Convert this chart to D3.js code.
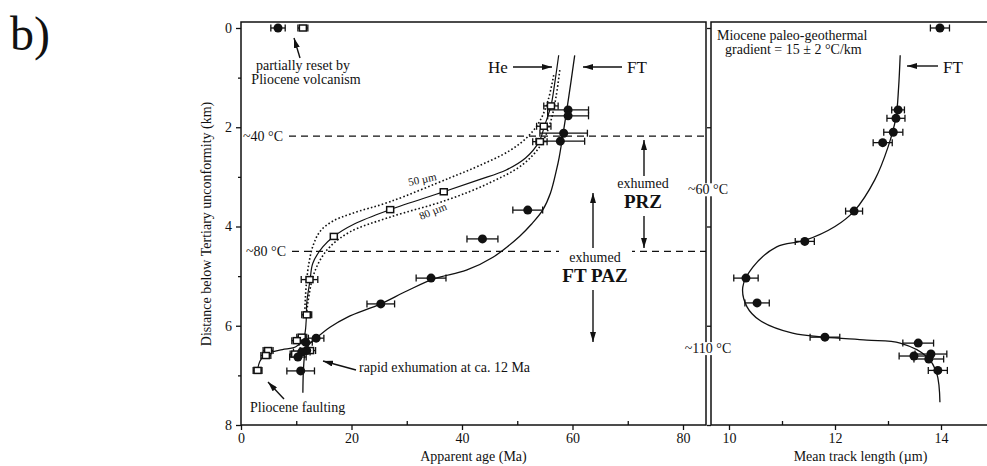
<!DOCTYPE html>
<html>
<head>
<meta charset="utf-8">
<script src="https://cdn.jsdelivr.net/npm/d3@7"></script>
<style>
body { margin: 0; background: #fff; }
svg text { font-family: "Liberation Serif", "Times New Roman", serif; fill: #111; }
</style>
</head>
<body>
<svg class="chart" width="987" height="466"></svg>
<script>
// fission-track (FT) ages, Ma, with depth below the unconformity, km
const ftAge   = [6.7, 59.2, 59.2, 58.4, 57.8, 51.9, 43.7, 34.4, 25.3, 13.6, 11.7, 11.9, 11.0, 10.3, 10.8]
const ftDepth = [0.0, 1.65, 1.77, 2.12, 2.28, 3.67, 4.25, 5.04, 5.56, 6.25, 6.33, 6.50, 6.53, 6.63, 6.91]
const ftErr   = [1.3, 3.7, 3.7, 4.3, 4.4, 2.7, 2.8, 2.7, 2.5, 1.4, 1.2, 1.2, 1.5, 1.5, 2.5]

// (U-Th)/He ages, Ma
const heAge   = [11.2, 56.1, 54.8, 54.1, 36.7, 27.0, 16.8, 12.4, 11.9, 11.0, 10.1, 12.5, 9.8, 4.9, 4.5, 3.0]
const heDepth = [0.0, 1.57, 1.98, 2.29, 3.30, 3.66, 4.20, 5.07, 5.78, 6.23, 6.30, 6.50, 6.57, 6.50, 6.60, 6.90]
const heErr   = [0.9, 1.3, 1.3, 1.3, 0, 0, 0, 1.5, 0.9, 0.9, 0.9, 1.0, 0.9, 0.9, 0.9, 0.8]

// mean track length, um
const mtl      = [13.98, 13.19, 13.15, 13.10, 12.90, 12.36, 11.43, 10.32, 10.53, 11.81, 13.57, 13.81, 13.49, 13.77, 13.94]
const mtlDepth = [0.00, 1.65, 1.82, 2.10, 2.31, 3.69, 4.30, 5.04, 5.54, 6.23, 6.35, 6.57, 6.61, 6.67, 6.90]
const mtlErr   = [0.18, 0.12, 0.17, 0.18, 0.18, 0.16, 0.18, 0.23, 0.23, 0.28, 0.29, 0.30, 0.28, 0.28, 0.18]

// model curves
const ftCurveAge   = [60.4, 59.7, 58.9, 58.2, 57.6, 57.1, 56.0, 54.6, 52.6, 50.4, 45.6, 40.8, 35.0, 30.0, 25.3, 19.2, 16.1, 13.6, 12.3, 11.6, 11.3, 11.2]
const ftCurveDepth = [0.55, 1.1, 1.7, 2.2, 2.6, 2.86, 3.33, 3.67, 3.95, 4.2, 4.62, 4.88, 5.05, 5.3, 5.56, 5.83, 6.03, 6.25, 6.38, 6.55, 6.9, 7.35]

const heCurveAge   = [57.5, 56.8, 56.1, 55.0, 53.9, 51.5, 48.0, 43.0, 36.7, 27.0, 20.5, 16.8, 14.8, 13.0, 12.5, 11.9, 11.8, 11.4, 10.0, 7.5, 5.5, 4.2, 3.4, 3.0]
const heCurveDepth = [0.55, 1.1, 1.57, 1.95, 2.30, 2.62, 2.86, 3.06, 3.30, 3.66, 3.95, 4.20, 4.41, 4.74, 5.08, 5.54, 5.9, 6.22, 6.42, 6.48, 6.53, 6.6, 6.72, 6.88]

const he50Age   = [56.6, 55.6, 54.2, 52.0, 48.5, 43.0, 37.8, 27.0, 20.0, 16.5, 14.3, 13.0, 12.2, 11.8, 11.6, 11.5]
const he50Depth = [0.95, 1.45, 1.85, 2.18, 2.48, 2.78, 3.02, 3.50, 3.74, 3.90, 4.10, 4.40, 4.80, 5.20, 5.55, 5.85]

const he80Age   = [57.7, 57.0, 56.0, 54.3, 51.0, 45.0, 37.2, 27.0, 19.7, 16.1, 14.3, 13.0, 12.1, 11.8]
const he80Depth = [0.85, 1.4, 1.9, 2.35, 2.75, 3.12, 3.47, 3.81, 4.11, 4.41, 4.68, 5.02, 5.54, 5.85]

const mtlCurveLen   = [13.23, 13.2, 13.15, 13.0, 12.75, 12.36, 12.0, 11.43, 10.9, 10.45, 10.26, 10.34, 10.58, 11.2, 11.81, 12.6, 13.23, 13.74, 13.92, 13.98]
const mtlCurveDepth = [0.55, 1.2, 1.8, 2.4, 3.06, 3.69, 4.0, 4.28, 4.41, 4.82, 5.22, 5.62, 5.89, 6.15, 6.23, 6.29, 6.35, 6.63, 6.96, 7.54]

// paleo-isotherms
const isoDepth = [2.18, 4.50]
const isoLabel = ["~40 °C", "~80 °C"]
const sideDepth = [3.25, 6.45]
const sideLabel = ["~60 °C", "~110 °C"]

const ageTicks = [0, 20, 40, 60, 80]
const ageMinor = [10, 30, 50, 70]
const depthTicks = [0, 2, 4, 6, 8]
const depthMinor = [1, 3, 5, 7]
const lenTicks = [10, 12, 14]
const lenMinor = [11, 13]

// layout
const panelTop = 22, panelBottom = 425
const leftX0 = 241, leftX1 = 706, rightX0 = 711, rightX1 = 1010
const serif = '"Liberation Serif", "Times New Roman", serif'

const svg = d3.select(".chart")

const x1 = d3.scaleLinear().domain([0, 80]).range([241, 683])
const x2 = d3.scaleLinear().domain([10, 14]).range([729, 941])
const y = d3.scaleLinear().domain([0, 8]).range([28, 425])

const defs = svg.append("defs")
defs.append("marker")
    .attr("id", "ah")
    .attr("viewBox", "0 0 10 6")
    .attr("refX", 10).attr("refY", 3)
    .attr("markerWidth", 10).attr("markerHeight", 6)
    .attr("markerUnits", "userSpaceOnUse")
    .attr("orient", "auto")
  .append("path")
    .attr("d", "M0,0 L10,3 L0,6 Z")
    .attr("fill", "#111")

// panel label
svg.append("text").attr("x", 10).attr("y", 50)
  .style("font-size", "48px").text("b)")

// axes
function styleAxis(g) {
  g.select(".domain").remove()
  g.attr("font-family", serif).attr("font-size", 14)
  g.selectAll("line").attr("stroke", "#111").attr("stroke-width", 1.3)
  g.selectAll("text").attr("fill", "#111")
}

svg.append("g").attr("transform", "translate(0," + panelBottom + ")")
  .call(d3.axisBottom(x1).tickValues(ageTicks).tickSize(5).tickPadding(3).tickFormat(d3.format("d")))
  .call(styleAxis)
svg.append("g").attr("transform", "translate(0," + panelBottom + ")")
  .call(d3.axisBottom(x1).tickValues(ageMinor).tickSize(-4).tickFormat(""))
  .call(styleAxis)
svg.append("g").attr("transform", "translate(" + leftX0 + ",0)")
  .call(d3.axisLeft(y).tickValues(depthTicks).tickSize(5).tickPadding(4).tickFormat(d3.format("d")))
  .call(styleAxis)
svg.append("g").attr("transform", "translate(" + leftX0 + ",0)")
  .call(d3.axisLeft(y).tickValues(depthMinor).tickSize(3).tickFormat(""))
  .call(styleAxis)

svg.append("g").attr("transform", "translate(0," + panelBottom + ")")
  .call(d3.axisBottom(x2).tickValues(lenTicks).tickSize(5).tickPadding(3).tickFormat(d3.format("d")))
  .call(styleAxis)
svg.append("g").attr("transform", "translate(0," + panelBottom + ")")
  .call(d3.axisBottom(x2).tickValues(lenMinor).tickSize(-4).tickFormat(""))
  .call(styleAxis)
svg.append("g").attr("transform", "translate(" + rightX0 + ",0)")
  .call(d3.axisLeft(y).tickValues(depthTicks).tickSize(4).tickFormat(""))
  .call(styleAxis)

// frames
svg.append("rect")
  .attr("x", leftX0).attr("y", panelTop)
  .attr("width", leftX1 - leftX0).attr("height", panelBottom - panelTop)
  .attr("fill", "none").attr("stroke", "#111").attr("stroke-width", 1.5)
svg.append("path")
  .attr("d", "M" + rightX1 + "," + panelTop + "H" + rightX0 + "V" + panelBottom + "H" + rightX1)
  .attr("fill", "none").attr("stroke", "#111").attr("stroke-width", 1.5)

// axis titles
svg.append("text")
  .attr("transform", "translate(211,224) rotate(-90)")
  .attr("text-anchor", "middle").style("font-size", "14px")
  .text("Distance below Tertiary unconformity (km)")
svg.append("text").attr("x", (leftX0 + leftX1) / 2).attr("y", 461)
  .attr("text-anchor", "middle").style("font-size", "14px")
  .text("Apparent age (Ma)")
svg.append("text").attr("x", (rightX0 + rightX1) / 2).attr("y", 461)
  .attr("text-anchor", "middle").style("font-size", "14px")
  .text("Mean track length (\u00b5m)")

// isotherm dashed lines
const isoStartX = [289, 292]
isoDepth.forEach(function(d, i) {
  svg.append("line")
    .attr("x1", isoStartX[i]).attr("x2", leftX1)
    .attr("y1", y(d)).attr("y2", y(d))
    .attr("stroke", "#111").attr("stroke-width", 1.3)
    .attr("stroke-dasharray", "7,5")
  svg.append("text").attr("x", 243 + i * 3).attr("y", y(d) + 5)
    .style("font-size", "14px").text(isoLabel[i])
})

// right-side isotherm labels that cut the panel borders
sideDepth.forEach(function(d, i) {
  const t = svg.append("text").attr("x", 708).attr("y", y(d) + 5)
    .attr("text-anchor", "middle").style("font-size", "14px").text(sideLabel[i])
  const bb = t.node().getBBox()
  svg.append("rect").attr("x", bb.x - 1).attr("y", bb.y + 1)
    .attr("width", bb.width + 2).attr("height", bb.height - 2).attr("fill", "#fff")
  t.raise()
})

// curves
const lineAge = d3.line().x(d => x1(d[0])).y(d => y(d[1])).curve(d3.curveCatmullRom.alpha(0.5))
const lineLen = d3.line().x(d => x2(d[0])).y(d => y(d[1])).curve(d3.curveCatmullRom.alpha(0.5))

svg.append("path").datum(d3.zip(he50Age, he50Depth)).attr("d", lineAge)
  .attr("fill", "none").attr("stroke", "#111").attr("stroke-width", 1.6).attr("stroke-dasharray", "1.6,2.2")
svg.append("path").datum(d3.zip(he80Age, he80Depth)).attr("d", lineAge)
  .attr("fill", "none").attr("stroke", "#111").attr("stroke-width", 1.6).attr("stroke-dasharray", "1.6,2.2")
svg.append("path").datum(d3.zip(heCurveAge, heCurveDepth)).attr("d", lineAge)
  .attr("fill", "none").attr("stroke", "#111").attr("stroke-width", 1.2)
svg.append("path").datum(d3.zip(ftCurveAge, ftCurveDepth)).attr("d", lineAge)
  .attr("fill", "none").attr("stroke", "#111").attr("stroke-width", 1.3)
svg.append("path").datum(d3.zip(mtlCurveLen, mtlCurveDepth)).attr("d", lineLen)
  .attr("fill", "none").attr("stroke", "#111").attr("stroke-width", 1.3)

// error bars
function errorBars(xs, ys, es, xScale) {
  const g = svg.append("g").attr("stroke", "#111").attr("stroke-width", 1.3)
  xs.forEach(function(v, i) {
    if (!es[i]) return
    const a = xScale(v - es[i]), b = xScale(v + es[i]), yy = y(ys[i])
    g.append("line").attr("x1", a).attr("x2", b).attr("y1", yy).attr("y2", yy)
    g.append("line").attr("x1", a).attr("x2", a).attr("y1", yy - 3.5).attr("y2", yy + 3.5)
    g.append("line").attr("x1", b).attr("x2", b).attr("y1", yy - 3.5).attr("y2", yy + 3.5)
  })
}
errorBars(ftAge, ftDepth, ftErr, x1)
errorBars(heAge, heDepth, heErr, x1)
errorBars(mtl, mtlDepth, mtlErr, x2)

// points
svg.append("g").selectAll("rect").data(d3.zip(heAge, heDepth)).enter().append("rect")
  .attr("x", d => x1(d[0]) - 3.5).attr("y", d => y(d[1]) - 3)
  .attr("width", 7).attr("height", 6)
  .attr("fill", "#fff").attr("stroke", "#111").attr("stroke-width", 1.5)
svg.append("g").selectAll("circle").data(d3.zip(ftAge, ftDepth)).enter().append("circle")
  .attr("cx", d => x1(d[0])).attr("cy", d => y(d[1])).attr("r", 4.5).attr("fill", "#111")
svg.append("g").selectAll("circle").data(d3.zip(mtl, mtlDepth)).enter().append("circle")
  .attr("cx", d => x2(d[0])).attr("cy", d => y(d[1])).attr("r", 4.5).attr("fill", "#111")

// annotations
function arrow(xa, ya, xb, yb) {
  svg.append("line").attr("x1", xa).attr("y1", ya).attr("x2", xb).attr("y2", yb)
    .attr("stroke", "#111").attr("stroke-width", 1.4).attr("marker-end", "url(#ah)")
}
function label(x, yy, txt, size, anchor, bold) {
  return svg.append("text").attr("x", x).attr("y", yy)
    .attr("text-anchor", anchor || "start")
    .style("font-size", size + "px")
    .style("font-weight", bold ? "bold" : "normal")
    .text(txt)
}

label(303, 70, "partially reset by", 14, "middle")
label(306, 84, "Pliocene volcanism", 14, "middle")
arrow(300, 58, 294, 38)

label(488, 73, "He", 17)
arrow(513, 67, 552, 67)
label(627, 73, "FT", 17)
arrow(622, 67, 583, 67)

label(717, 40, "Miocene paleo-geothermal", 14)
label(725, 54, "gradient = 15 \u00b1 2 \u00b0C/km", 14)
label(943, 73, "FT", 17)
arrow(938, 66, 907, 66)

label(643, 188, "exhumed", 14, "middle")
label(643, 208, "PRZ", 19, "middle", true)
arrow(644, 176, 644, 140)
arrow(644, 216, 644, 248)

// gap in the ~80 °C line behind the FT PAZ label
svg.append("rect").attr("x", 559).attr("y", 244).attr("width", 73).attr("height", 14).attr("fill", "#fff")
label(595, 262, "exhumed", 14, "middle")
label(595, 282, "FT PAZ", 19, "middle", true)
arrow(593, 248, 593, 193)
arrow(593, 290, 593, 342)

label(359, 372, "rapid exhumation at ca. 12 Ma", 14)
arrow(356, 370, 323, 361)

label(250, 412, "Pliocene faulting", 14)
arrow(284, 399, 268, 382)

svg.append("text").attr("transform", "translate(409,186) rotate(-12)")
  .style("font-size", "11px").text("50 \u00b5m")
svg.append("text").attr("transform", "translate(421,220) rotate(-22)")
  .style("font-size", "11px").text("80 \u00b5m")
</script>
</body>
</html>
